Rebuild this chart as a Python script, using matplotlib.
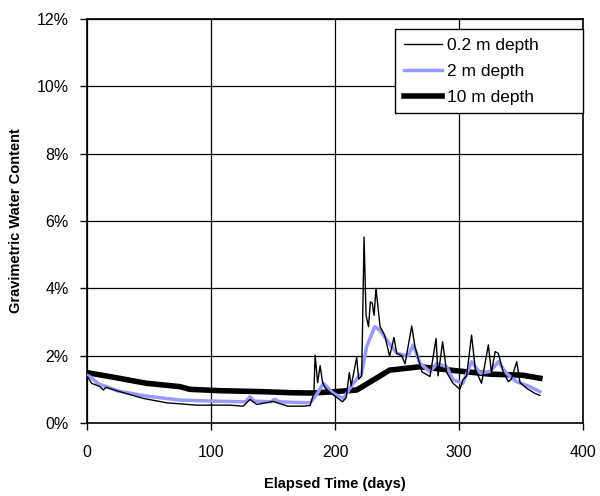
import matplotlib.pyplot as plt
from matplotlib.ticker import FuncFormatter

plt.rcParams['font.family'] = ['Liberation Sans', 'DejaVu Sans']

# 0.2 m depth
days_02 = [0, 1, 4, 10.7, 13.4, 15.5, 26.8, 45.6, 64.4, 88.6, 102, 115, 126, 131.5, 137,
           150, 162, 175, 180, 183, 184, 186, 188, 190, 192, 196, 200, 206, 209, 211.5, 213,
           217.5, 219, 221.5, 223.4, 225, 227, 228.5, 230, 231.5, 233, 236.3, 240, 244,
           247.5, 249.7, 253.7, 256.4, 261.8, 264.4, 270, 276.5, 281.4, 283, 286.7, 290,
           295, 300.6, 303, 306, 310, 313, 318, 323.5, 326, 329, 331.5, 335.6, 339.6, 342,
           346.4, 349, 354.4, 361, 365]
wc_02 = [1.38, 1.35, 1.18, 1.08, 0.98, 1.06, 0.93, 0.73, 0.60, 0.53, 0.53, 0.53, 0.50, 0.70, 0.55,
         0.64, 0.50, 0.50, 0.52, 0.9, 2.02, 1.2, 1.70, 1.2, 1.05, 0.9, 0.8, 0.63, 0.75, 1.5, 1.1,
         1.95, 1.3, 1.4, 5.52, 3.2, 2.86, 3.6, 3.56, 3.2, 4.0, 2.86, 2.61, 1.98,
         2.54, 2.07, 2.0, 1.76, 2.88, 2.27, 1.52, 1.38, 2.51, 1.4, 2.41, 1.5,
         1.18, 1.0, 1.28, 1.4, 2.61, 1.6, 1.18, 2.32, 1.5, 2.12, 2.07, 1.5, 1.23, 1.3,
         1.82, 1.2, 1.03, 0.88, 0.82]

# 2 m depth
days_2 = [0, 2.7, 10, 16, 25, 48, 75, 102, 128, 131.5, 135, 148, 151.7, 155, 170, 180, 185,
          190.6, 198.6, 206.7, 214.7, 221.5, 225.5, 232, 236, 241.6, 249.7, 255, 259, 263,
          268.5, 276.5, 282, 290, 295, 303, 310, 317, 325, 331.5, 338, 346, 357, 365]
wc_2 = [1.42, 1.37, 1.15, 1.08, 0.95, 0.80, 0.68, 0.65, 0.63, 0.78, 0.65, 0.63, 0.70, 0.63, 0.61,
        0.60, 0.83, 1.18, 0.88, 0.73, 1.18, 1.48, 2.27, 2.86, 2.76, 2.47, 2.07, 2.02, 2.0, 2.32,
        1.77, 1.52, 1.77, 1.67, 1.28, 1.18, 1.82, 1.48, 1.53, 1.82, 1.48, 1.23, 1.08, 0.93]

# 10 m depth
days_10 = [0, 1, 21.5, 48, 75, 83, 107, 142, 164, 180, 196, 217.5, 231, 244, 268.5, 298,
           325, 351, 365]
wc_10 = [1.5, 1.49, 1.36, 1.18, 1.08, 1.0, 0.96, 0.93, 0.90, 0.89, 0.92, 0.98, 1.28, 1.57,
         1.67, 1.55, 1.45, 1.42, 1.33]

fig = plt.figure(figsize=(6, 4.96), dpi=100)
ax = fig.add_axes([0.1445, 0.1472, 0.8277, 0.8145])

ax.plot(days_02, wc_02, color='black', linewidth=1.0, label='0.2 m depth', zorder=4)
ax.plot(days_2, wc_2, color='#9999FF', linewidth=2.5, label='2 m depth', zorder=3)
ax.plot(days_10, wc_10, color='black', linewidth=4, label='10 m depth', zorder=2)

ax.set_xlim(0, 400)
ax.set_ylim(0, 12)
ax.set_xticks([0, 100, 200, 300, 400])
ax.set_yticks([0, 2, 4, 6, 8, 10, 12])
ax.yaxis.set_major_formatter(FuncFormatter(lambda v, p: '%d%%' % v))
ax.tick_params(direction='out', length=5, width=1, labelsize=11.5)
ax.tick_params(axis='x', pad=11)
ax.tick_params(axis='y', pad=8)
ax.grid(True, color='black', linewidth=0.9)
ax.set_axisbelow(True)
for s in ax.spines.values():
    s.set_color('black')
    s.set_linewidth(1.2)

ax.set_xlabel('Elapsed Time (days)', fontsize=10.5, fontweight='bold', labelpad=12)
ax.set_ylabel('Gravimetric Water Content', fontsize=10.5, fontweight='bold', labelpad=10)

# legend box: about 188 px wide, 10 px below the top of the plot area
leg_w = 188 / 496.6
leg = ax.legend(loc='upper right', bbox_to_anchor=(1 - leg_w, 0, leg_w, 1 - 10 / 404),
                mode='expand', borderaxespad=0, fancybox=False, framealpha=1,
                edgecolor='black', fontsize=12.5, handlelength=2.2, handletextpad=0.3,
                labelspacing=0.62, borderpad=0.5)
leg.get_frame().set_linewidth(1.0)

fig.savefig('out.png', dpi=100)
